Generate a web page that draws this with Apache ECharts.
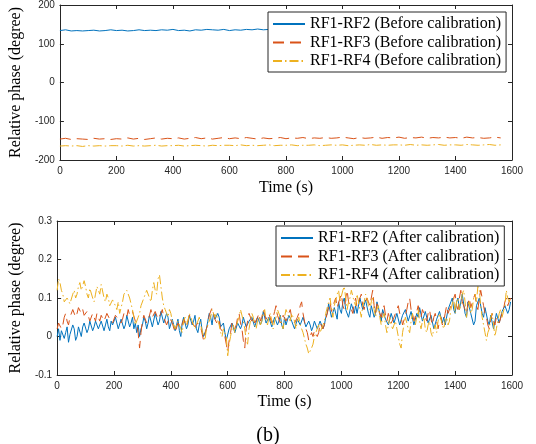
<!DOCTYPE html>
<html>
<head>
<meta charset="utf-8">
<script src="https://cdn.jsdelivr.net/npm/echarts/dist/echarts.min.js"></script>
<style>
html,body{margin:0;padding:0;background:#fff;}
#chart{width:536px;height:444px;}
</style>
</head>
<body>
<div id="chart"></div>
<script>
// ---------- data ----------
const xTicks = [0, 200, 400, 600, 800, 1000, 1200, 1400, 1600];
const topYTicks = [-200, -100, 0, 100, 200];
const botYTicks = [-0.1, 0, 0.1, 0.2, 0.3];

const topNames = ['RF1-RF2 (Before calibration)', 'RF1-RF3 (Before calibration)', 'RF1-RF4 (Before calibration)'];
const botNames = ['RF1-RF2 (After calibration)', 'RF1-RF3 (After calibration)', 'RF1-RF4 (After calibration)'];

// top panel: one sample every 20 s, from 0 s to 1560 s
const topStep = 20;
const before12 = [134,136,133,134,133,134,135,133,134,136,
  134,135,133,134,136,134,135,134,136,135,
  137,134,135,133,136,135,137,136,135,137,
  134,136,135,137,136,138,136,137,135,137,
  136,137,135,136,138,136,137,135,136,137,
  136,138,137,135,136,137,136,138,137,136,
  137,135,136,138,137,136,137,138,136,137,
  136,137,135,136,138,137,136,137,136];
const before13 = [-146,-144,-147,-145,-146,-147,-144,-146,-145,-147,
  -145,-146,-143,-146,-144,-147,-145,-143,-146,-144,
  -145,-143,-146,-144,-142,-145,-143,-146,-144,-142,
  -145,-143,-145,-142,-144,-146,-143,-145,-144,-142,
  -145,-143,-144,-142,-145,-143,-144,-142,-144,-143,
  -141,-143,-145,-142,-144,-143,-141,-144,-142,-143,
  -141,-144,-142,-143,-141,-144,-142,-143,-141,-143,
  -142,-144,-141,-143,-142,-144,-143,-141,-143];
const before14 = [-164,-163,-164,-163,-165,-163,-164,-163,-164,-163,
  -163,-164,-162,-164,-163,-164,-163,-162,-164,-163,
  -163,-162,-164,-163,-162,-163,-164,-162,-163,-162,
  -162,-163,-161,-163,-162,-163,-162,-161,-163,-162,
  -162,-161,-163,-162,-162,-161,-163,-162,-161,-162,
  -161,-163,-162,-161,-162,-160,-162,-161,-162,-161,
  -161,-162,-160,-162,-161,-162,-161,-160,-162,-161,
  -161,-162,-160,-161,-162,-161,-160,-162,-161];

// bottom panel: one sample every 5 s, from 0 s to 1595 s (one row = 100 s)
const botStep = 5;
const after12 = [
  0.00,0.02,-0.01,0.015,0.02,-0.005,0.01,0.025,-0.015,0.005,0.01,0.03,0.02,-0.01,0.0,0.025,0.02,0.0,0.025,0.035,
  0.03,0.01,0.02,0.04,0.035,0.015,0.025,0.04,0.03,0.02,0.02,0.04,0.035,0.015,0.03,0.045,0.025,0.015,0.04,0.03,
  0.03,0.05,0.045,0.02,0.025,0.045,0.04,0.02,0.03,0.055,0.05,0.025,0.035,0.05,0.02,0.035,0.01,0.03,0.0,0.02,
  0.03,0.05,0.04,0.02,0.035,0.055,0.05,0.025,0.03,0.06,0.055,0.03,0.04,0.065,0.06,0.035,0.03,0.06,0.05,0.02,
  0.02,0.045,0.04,0.015,0.03,0.045,0.015,0.0,0.035,0.05,0.045,0.02,0.03,0.055,0.05,0.03,0.04,0.055,0.02,0.01,
  0.03,0.045,0.015,0.0,-0.005,0.02,0.04,0.06,0.05,0.03,0.06,0.045,0.04,0.06,0.05,0.025,0.02,0.035,0.01,-0.01,
  -0.005,0.02,0.02,0.035,0.03,0.01,0.01,0.035,0.04,0.02,0.03,0.05,0.05,0.025,0.02,0.04,0.035,0.05,0.045,0.025,
  0.03,0.05,0.05,0.03,0.04,0.065,0.06,0.035,0.03,0.05,0.045,0.025,0.025,0.05,0.05,0.03,0.04,0.055,0.03,0.02,
  0.05,0.03,0.035,0.055,0.06,0.04,0.04,0.02,0.02,0.045,0.05,0.03,0.03,0.05,0.045,0.025,0.02,0.04,0.03,0.015,
  0.025,0.04,0.035,0.02,0.02,0.04,0.04,0.02,0.03,0.05,0.06,0.085,0.08,0.05,0.05,0.075,0.07,0.045,0.09,0.07,
  0.06,0.09,0.1,0.07,0.07,0.05,0.05,0.085,0.09,0.06,0.08,0.06,0.06,0.1,0.1,0.07,0.07,0.095,0.09,0.06,
  0.05,0.08,0.08,0.05,0.06,0.09,0.09,0.06,0.04,0.07,0.07,0.045,0.05,0.03,0.03,0.06,0.06,0.035,0.04,0.06,
  0.06,0.03,0.03,0.055,0.05,0.07,0.07,0.04,0.04,0.065,0.06,0.03,0.03,0.06,0.05,0.075,0.07,0.04,0.04,0.065,
  0.06,0.035,0.03,0.055,0.05,0.02,0.02,0.045,0.04,0.065,0.06,0.035,0.05,0.03,0.03,0.07,0.07,0.09,0.1,0.07,
  0.06,0.09,0.1,0.07,0.07,0.11,0.11,0.06,0.05,0.09,0.09,0.06,0.06,0.03,0.04,0.08,0.08,0.1,0.1,0.06,
  0.05,0.075,0.07,0.04,0.03,0.055,0.05,0.02,0.02,0.06,0.06,0.035,0.04,0.065,0.06,0.08,0.08,0.06,0.07,0.09];
const after13 = [
  0.02,0.035,0.04,0.02,0.03,0.05,0.06,0.04,0.03,0.05,0.05,0.07,0.07,0.05,0.06,0.075,0.08,0.06,0.07,0.055,
  0.05,0.065,0.06,0.04,0.04,0.06,0.055,0.04,0.06,0.05,0.04,0.055,0.05,0.04,0.045,0.06,0.06,0.045,0.05,0.035,
  0.04,0.055,0.06,0.045,0.05,0.035,0.045,0.06,0.065,0.05,0.07,0.055,0.05,0.065,0.06,0.04,0.03,0.01,-0.03,0.01,
  0.04,0.055,0.06,0.035,0.03,0.055,0.07,0.05,0.05,0.065,0.06,0.045,0.04,0.06,0.07,0.05,0.05,0.03,0.03,0.05,
  0.05,0.035,0.03,0.01,0.01,0.035,0.04,0.02,0.02,0.045,0.05,0.025,0.03,0.055,0.06,0.035,0.04,0.025,0.02,0.035,
  0.04,0.025,0.02,-0.01,-0.01,0.02,0.03,0.055,0.06,0.075,0.07,0.045,0.05,0.03,0.04,0.02,0.02,0.01,0.0,-0.02,
  -0.04,-0.01,0.01,0.035,0.04,0.02,0.03,0.05,0.06,0.035,0.02,-0.01,-0.03,0.02,0.04,0.06,0.06,0.04,0.05,0.035,
  0.03,0.05,0.06,0.04,0.05,0.07,0.07,0.045,0.04,0.06,0.06,0.035,0.03,0.065,0.08,0.055,0.05,0.035,0.04,0.055,
  0.06,0.04,0.04,0.06,0.07,0.05,0.05,0.035,0.03,0.05,0.06,0.08,0.09,0.06,0.04,0.02,0.01,-0.01,-0.01,0.01,
  0.0,0.015,0.02,0.0,0.01,0.035,0.04,0.02,0.03,0.045,0.05,0.075,0.09,0.065,0.07,0.09,0.1,0.075,0.08,0.1,
  0.11,0.08,0.07,0.1,0.12,0.09,0.09,0.07,0.06,0.085,0.1,0.075,0.08,0.1,0.11,0.08,0.07,0.09,0.1,0.09,
  0.08,0.1,0.12,0.08,0.06,0.085,0.09,0.06,0.05,0.07,0.08,0.055,0.04,0.06,0.06,0.035,0.03,0.05,0.05,0.07,
  0.08,0.06,0.05,0.03,0.03,0.055,0.07,0.09,0.1,0.07,0.06,0.04,0.04,0.065,0.08,0.06,0.05,0.07,0.07,0.05,
  0.04,0.06,0.07,0.045,0.03,0.05,0.06,0.04,0.02,0.04,0.05,0.03,0.04,0.06,0.08,0.06,0.06,0.08,0.09,0.1,
  0.11,0.08,0.07,0.1,0.12,0.09,0.09,0.07,0.06,0.085,0.1,0.075,0.08,0.1,0.11,0.08,0.07,0.1,0.12,0.1,
  0.08,0.06,0.05,0.03,0.02,0.045,0.06,0.04,0.03,0.05,0.05,0.035,0.04,0.06,0.07,0.09,0.1,0.08,0.08,0.1];
const after14 = [
  0.12,0.15,0.14,0.12,0.11,0.09,0.09,0.1,0.1,0.085,0.08,0.11,0.12,0.1,0.11,0.13,0.14,0.12,0.12,0.145,
  0.13,0.11,0.1,0.125,0.12,0.1,0.09,0.11,0.13,0.12,0.11,0.135,0.13,0.1,0.09,0.11,0.1,0.08,0.08,0.095,
  0.09,0.08,0.07,0.09,0.06,0.075,0.09,0.11,0.11,0.12,0.12,0.1,0.1,0.07,0.05,0.03,0.03,0.05,0.06,0.08,
  0.08,0.1,0.1,0.12,0.12,0.1,0.09,0.12,0.14,0.12,0.11,0.15,0.16,0.13,0.1,0.08,0.07,0.06,0.05,0.07,
  0.06,0.04,0.03,0.02,0.02,0.04,0.04,0.02,0.01,0.04,0.05,0.03,0.04,0.06,0.06,0.04,0.03,0.02,0.02,0.04,
  0.05,0.03,0.03,0.0,-0.01,0.02,0.02,0.04,0.05,0.07,0.07,0.05,0.06,0.04,0.03,0.01,0.0,0.02,0.02,0.0,
  -0.05,-0.02,0.0,0.02,0.03,0.01,0.01,0.04,0.05,0.07,0.07,0.04,0.02,-0.01,-0.02,0.02,0.04,0.06,0.05,0.03,
  0.02,0.04,0.05,0.03,0.04,0.06,0.07,0.04,0.03,0.05,0.06,0.04,0.02,0.04,0.05,0.07,0.07,0.05,0.03,0.02,
  0.05,0.07,0.07,0.05,0.04,0.06,0.06,0.04,0.02,0.04,0.05,0.03,0.03,0.01,0.01,-0.02,-0.03,-0.045,-0.05,-0.03,
  -0.02,0.0,0.0,0.02,0.03,0.01,0.01,0.03,0.04,0.06,0.06,0.09,0.1,0.07,0.05,0.08,0.08,0.11,0.12,0.09,
  0.09,0.12,0.13,0.1,0.07,0.09,0.1,0.12,0.12,0.09,0.08,0.11,0.11,0.07,0.05,0.08,0.09,0.11,0.1,0.08,
  0.07,0.09,0.1,0.07,0.05,0.07,0.08,0.05,0.03,0.05,0.06,0.03,0.01,0.03,0.05,0.03,0.02,0.03,0.04,0.02,
  0.0,-0.02,-0.03,0.01,0.03,0.05,0.05,0.02,0.01,0.04,0.06,0.04,0.03,0.05,0.07,0.04,0.02,0.04,0.05,0.02,
  0.01,0.03,0.04,0.01,0.0,0.02,0.03,0.01,0.04,0.06,0.06,0.03,0.02,0.04,0.05,0.03,0.04,0.07,0.07,0.1,
  0.06,0.09,0.1,0.07,0.08,0.11,0.12,0.09,0.05,0.08,0.09,0.06,0.07,0.1,0.11,0.09,0.13,0.12,0.08,0.05,
  0.03,0.01,-0.01,0.01,0.02,0.05,0.06,0.03,0.0,0.02,0.04,0.06,0.07,0.05,0.05,0.08,0.12,0.1,0.09,0.1];

// ---------- chart ----------
const C1 = '#0072BD', C2 = '#D95319', C3 = '#EDB120';
const AX = '#262626';
const SERIF = '"Liberation Serif", "Times New Roman", serif';
const SANS = '"Liberation Sans", Arial, sans-serif';

function pairs(arr, step) { return arr.map((v, i) => [i * step, v]); }

const grids = [
  {left: 54, top: 5, width: 458, height: 155},
  {left: 54, top: 221, width: 458, height: 154}
];

function xAxisMain(gi, nameGap) {
  return {
    type: 'value', gridIndex: gi, min: xTicks[0], max: xTicks[xTicks.length - 1], interval: xTicks[1] - xTicks[0],
    name: 'Time (s)', nameLocation: 'middle', nameGap: nameGap,
    nameTextStyle: {fontFamily: SERIF, fontSize: 16, color: '#000'},
    axisLine: {show: true, onZero: false, lineStyle: {color: AX, width: 1}},
    axisTick: {show: true, inside: true, length: 4, lineStyle: {color: AX}},
    axisLabel: {fontFamily: SANS, fontSize: 10, color: AX, margin: 6, formatter: v => String(v)},
    splitLine: {show: false}
  };
}
function xAxisBox(gi) {
  return {
    type: 'value', gridIndex: gi, position: 'top', min: xTicks[0], max: xTicks[xTicks.length - 1], interval: xTicks[1] - xTicks[0],
    axisLine: {show: true, onZero: false, lineStyle: {color: AX, width: 1}},
    axisTick: {show: true, inside: true, length: 4, lineStyle: {color: AX}},
    axisLabel: {show: false}, splitLine: {show: false}
  };
}
function yAxisMain(gi, ticks, nameGap) {
  return {
    type: 'value', gridIndex: gi, min: ticks[0], max: ticks[ticks.length - 1],
    interval: Math.round((ticks[1] - ticks[0]) * 1000) / 1000,
    name: 'Relative phase (degree)', nameLocation: 'middle', nameGap: nameGap, nameRotate: 90,
    nameTextStyle: {fontFamily: SERIF, fontSize: 16, color: '#000'},
    axisLine: {show: true, onZero: false, lineStyle: {color: AX, width: 1}},
    axisTick: {show: true, inside: true, length: 4, lineStyle: {color: AX}},
    axisLabel: {fontFamily: SANS, fontSize: 10, color: AX, margin: 5,
      formatter: v => String(Math.round(v * 1000) / 1000)},
    splitLine: {show: false}
  };
}
function yAxisBox(gi, ticks) {
  return {
    type: 'value', gridIndex: gi, position: 'right', min: ticks[0], max: ticks[ticks.length - 1],
    interval: Math.round((ticks[1] - ticks[0]) * 1000) / 1000,
    axisLine: {show: true, onZero: false, lineStyle: {color: AX, width: 1}},
    axisTick: {show: true, inside: true, length: 4, lineStyle: {color: AX}},
    axisLabel: {show: false}, splitLine: {show: false}
  };
}

function lineSeries(name, data, xi, yi, color, type) {
  return {
    type: 'line', name: name, data: data, xAxisIndex: xi, yAxisIndex: yi,
    showSymbol: false, symbol: 'none', animation: false, clip: true,
    lineStyle: {color: color, width: 1, type: type},
    itemStyle: {color: color}
  };
}

const DASH = [11, 6];
const DASHDOT = [9, 3, 1.5, 3];

function legendCfg(names, left, top) {
  return {
    data: names, orient: 'vertical', left: left, top: top,
    itemWidth: 32, itemHeight: 14, itemGap: 2.5,
    padding: [4, 5, 3, 4],
    itemStyle: {opacity: 0},
    backgroundColor: '#fff', borderColor: AX, borderWidth: 1, borderRadius: 0,
    textStyle: {fontFamily: SERIF, fontSize: 16, color: '#000', lineHeight: 16},
    selectedMode: false, z: 10
  };
}

const chart = echarts.init(document.getElementById('chart'), null, {renderer: 'canvas'});
chart.setOption({
  animation: false,
  backgroundColor: '#fff',
  grid: grids,
  xAxis: [xAxisMain(0, 20), xAxisBox(0), xAxisMain(1, 19), xAxisBox(1)],
  yAxis: [yAxisMain(0, topYTicks, 31), yAxisBox(0, topYTicks), yAxisMain(1, botYTicks, 31), yAxisBox(1, botYTicks)],
  legend: [legendCfg(topNames, 268, 12), legendCfg(botNames, 276, 226)],
  title: {
    text: '(b)', left: 'center', top: 421,
    textStyle: {fontFamily: SERIF, fontSize: 20, fontWeight: 'normal', color: '#000'}
  },
  series: [
    lineSeries(topNames[0], pairs(before12, topStep), 0, 0, C1, 'solid'),
    lineSeries(topNames[1], pairs(before13, topStep), 0, 0, C2, DASH),
    lineSeries(topNames[2], pairs(before14, topStep), 0, 0, C3, DASHDOT),
    lineSeries(botNames[0], pairs(after12, botStep), 2, 2, C1, 'solid'),
    lineSeries(botNames[1], pairs(after13, botStep), 2, 2, C2, DASH),
    lineSeries(botNames[2], pairs(after14, botStep), 2, 2, C3, DASHDOT)
  ]
});
</script>
</body>
</html>
